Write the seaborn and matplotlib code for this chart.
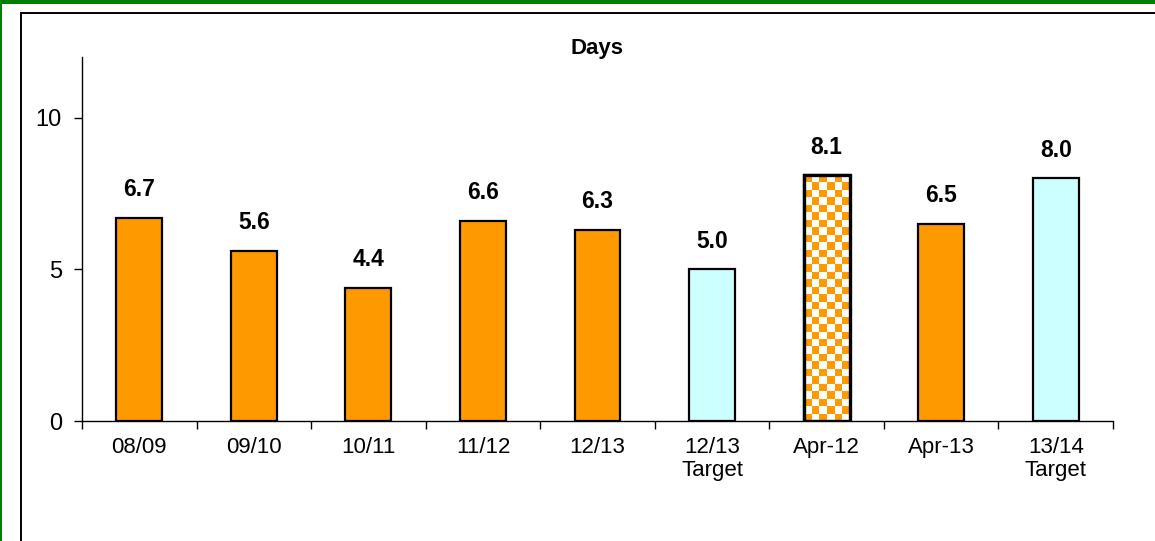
import numpy as np
import pandas as pd
import matplotlib
matplotlib.use("Agg")
import matplotlib.pyplot as plt
import seaborn as sns
from matplotlib.patches import Rectangle

# Data
categories = ["08/09", "09/10", "10/11", "11/12", "12/13", "12/13\nTarget", "Apr-12", "Apr-13", "13/14\nTarget"]
days = [6.7, 5.6, 4.4, 6.6, 6.3, 5.0, 8.1, 6.5, 8.0]
bar_colors = ["#FF9900", "#FF9900", "#FF9900", "#FF9900", "#FF9900", "#CCFFFF", "#FFFFFF", "#FF9900", "#CCFFFF"]
checkered = [False, False, False, False, False, False, True, False, False]
y_ticks = [0, 5, 10]

df = pd.DataFrame({"category": categories, "days": days})

sns.set_style("white")
plt.rcParams["font.family"] = ["Liberation Sans", "DejaVu Sans"]
plt.rcParams["text.color"] = "black"
plt.rcParams["xtick.color"] = "black"
plt.rcParams["ytick.color"] = "black"

fig = plt.figure(figsize=(11.55, 5.41), dpi=100)
ax = fig.add_axes([82 / 1155, 1 - 421 / 541, (1113 - 82) / 1155, (421 - 57) / 541])

sns.barplot(data=df, x="category", y="days", hue="category", palette=bar_colors,
            legend=False, width=0.4, edgecolor="black", linewidth=1.6, saturation=1, ax=ax)

ax.set_ylim(0, 12)
ax.set_xlim(-0.5, len(categories) - 0.5)
ax.set_yticks(y_ticks)
ax.set_xlabel("")
ax.set_ylabel("")
ax.set_title("Days", fontsize=16, fontweight="bold", pad=2, color="black")

for s in ["top", "right"]:
    ax.spines[s].set_visible(False)
for s in ["left", "bottom"]:
    ax.spines[s].set_color("black")
    ax.spines[s].set_linewidth(1.0)

ax.tick_params(axis="y", which="major", left=True, length=6, width=1, color="black",
               labelcolor="black", labelsize=17, pad=8.5)
ax.tick_params(axis="x", which="major", bottom=False, labelcolor="black", labelsize=16, pad=8)
ax.set_xticks(np.arange(len(categories) + 1) - 0.5, minor=True)
ax.tick_params(axis="x", which="minor", bottom=True, length=5.5, width=1, color="black")
for lbl in ax.get_xticklabels():
    lbl.set_linespacing(1.1)

# checkered bar
fig.canvas.draw()
for patch, chk in zip(ax.patches, checkered):
    if not chk:
        continue
    x0, y0 = patch.get_x(), patch.get_y()
    w, h = patch.get_width(), patch.get_height()
    px0 = ax.transData.transform((x0, y0))
    px1 = ax.transData.transform((x0 + w, y0 + h))
    cell = 7.5
    ncol = max(1, int(round((px1[0] - px0[0]) / cell)))
    nrow = max(1, int(round((px1[1] - px0[1]) / cell)))
    grid = (np.add.outer(np.arange(nrow), np.arange(ncol)) % 2).astype(float)
    cmap = matplotlib.colors.ListedColormap(["#FF9900", "#FFFFFF"])
    im = ax.imshow(grid, cmap=cmap, extent=(x0, x0 + w, y0, y0 + h), origin="lower",
                   aspect="auto", interpolation="nearest", zorder=patch.get_zorder() + 0.1)
    im.set_clip_path(patch)
    ax.add_patch(Rectangle((x0, y0), w, h, fill=False, edgecolor="black",
                           linewidth=2.4, zorder=patch.get_zorder() + 0.2))
ax.set_xlim(-0.5, len(categories) - 0.5)
ax.set_ylim(0, 12)

# value labels
for i, v in enumerate(days):
    ax.annotate(f"{v:.1f}", xy=(i, v), xytext=(0, 12), textcoords="offset points",
                ha="center", va="bottom", fontsize=16.5, fontweight="bold", color="black")

# outer frames
fig.patches.append(Rectangle((0, 1 - 4 / 541), 1, 4 / 541, transform=fig.transFigure,
                             facecolor="#008000", edgecolor="none"))
fig.patches.append(Rectangle((0, 0), 2 / 1155, 1, transform=fig.transFigure,
                             facecolor="#008000", edgecolor="none"))
fig.patches.append(Rectangle((21 / 1155, -0.1), 1.2, 1.1 - 13 / 541, transform=fig.transFigure,
                             fill=False, edgecolor="black", linewidth=1.4))

fig.savefig("out.png", dpi=100, facecolor="white")
